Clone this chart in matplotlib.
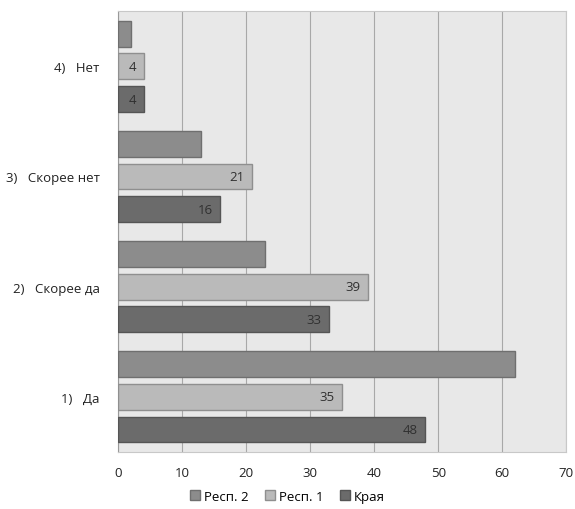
import matplotlib.pyplot as plt
import numpy as np

# Categories from bottom to top
categories = ["1)   Да", "2)   Скорее да", "3)   Скорее нет", "4)   Нет"]

# Series values (same order as categories)
kraya = [48, 33, 16, 4]
resp1 = [35, 39, 21, 4]
resp2 = [62, 23, 13, 2]

series_names = ["Края", "Респ. 1", "Респ. 2"]
series_colors = ["#6b6b6b", "#bababa", "#8c8c8c"]
edge_colors = ["#555555", "#8f8f8f", "#6f6f6f"]
show_labels = [True, True, False]

x_ticks = [0, 10, 20, 30, 40, 50, 60, 70]

plt.rcParams["font.family"] = ["Open Sans", "DejaVu Sans"]

fig = plt.figure(figsize=(5.75, 5.1), dpi=100)
ax = fig.add_axes([0.205, 0.112, 0.78, 0.864])
ax.set_facecolor("#e8e8e8")

y = np.arange(len(categories))
step = 0.297
height = 0.235
offsets = [-step, 0, step]

for values, name, color, edge, off, label_on in zip(
    [kraya, resp1, resp2], series_names, series_colors, edge_colors, offsets, show_labels
):
    bars = ax.barh(y + off, values, height=height, color=color,
                   edgecolor=edge, linewidth=1, label=name, zorder=3)
    if label_on:
        for bar, v in zip(bars, values):
            ax.text(bar.get_width() - 1.2, bar.get_y() + bar.get_height() / 2,
                    str(v), ha="right", va="center", fontsize=9.5,
                    color="#303030", zorder=4)

ax.set_xlim(0, 70)
ax.set_ylim(-0.5, 3.5)
ax.set_xticks(x_ticks)
ax.set_yticks(y)
ax.set_yticklabels(categories)
ax.tick_params(axis="both", length=0, labelsize=9.5, colors="#222222")
ax.tick_params(axis="x", pad=10)
ax.tick_params(axis="y", pad=13)
ax.grid(axis="x", color="#a8a8a8", linewidth=0.8, zorder=0)
for side in ["top", "right"]:
    ax.spines[side].set_color("#c8c8c8")
ax.spines["left"].set_color("#999999")
ax.spines["bottom"].set_color("#c8c8c8")

handles, labels = ax.get_legend_handles_labels()
fig.legend(handles[::-1], labels[::-1], loc="center", bbox_to_anchor=(0.5, 0.025),
           ncol=3, frameon=False, fontsize=9.5, handlelength=0.8, handleheight=0.8,
           handletextpad=0.3, columnspacing=1.2)

fig.savefig("out.png")
